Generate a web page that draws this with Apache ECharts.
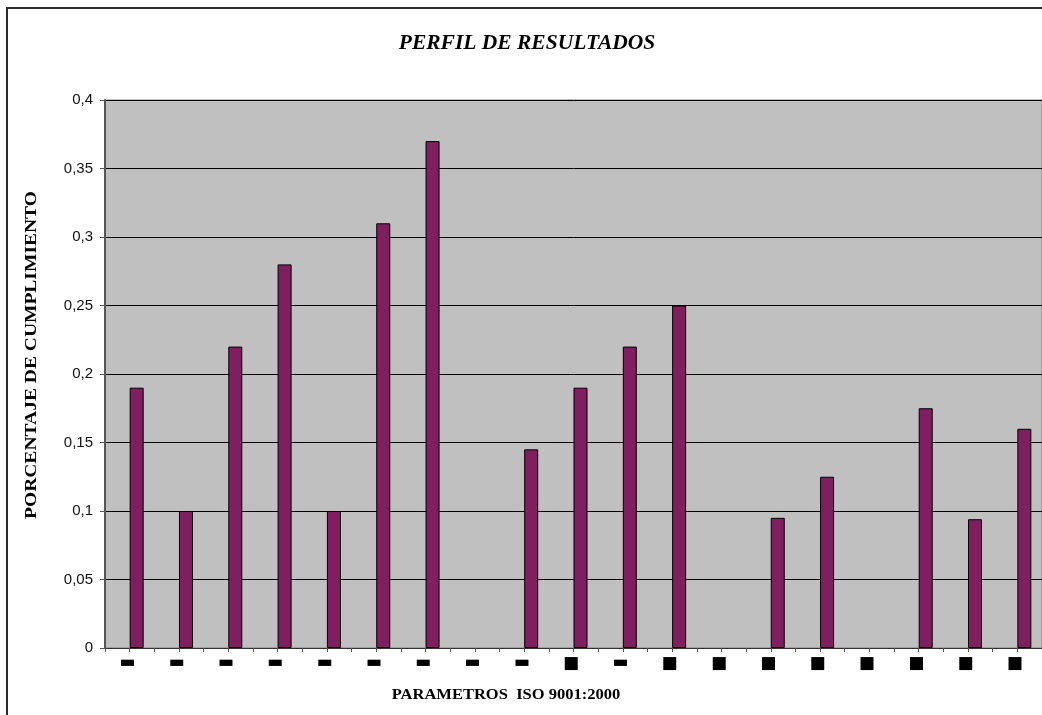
<!DOCTYPE html>
<html>
<head>
<meta charset="utf-8">
<script src="https://cdn.jsdelivr.net/npm/echarts@6/dist/echarts.min.js"></script>
<style>
  html, body { margin: 0; padding: 0; background: #fff; overflow: hidden; }
  #chart { width: 1042px; height: 715px; }
</style>
</head>
<body>
<div id="chart"></div>
<script>
// Marcadores de categoría tal como aparecen bajo cada parámetro
const categorias = ['▬', '▬', '▬', '▬', '▬', '▬', '▬', '▬', '▬', '■',
                    '▬', '■', '■', '■', '■', '■', '■', '■', '■'];

// Porcentaje de cumplimiento por parámetro (null: sin columna)
const cumplimiento = [0.19, 0.10, 0.22, 0.28, 0.10, 0.31, 0.37, null, 0.145, 0.19,
                      0.22, 0.25, null, 0.095, 0.125, null, 0.175, 0.094, 0.16];

// Primera serie del grupo, sin valores (ocupa el hueco izquierdo de cada columna)
const serieVacia = [null, null, null, null, null, null, null, null, null, null,
                    null, null, null, null, null, null, null, null, null];

// Marcas del eje Y
const ejeY = { min: 0, max: 0.4, paso: 0.05 };

const chart = echarts.init(document.getElementById('chart'), null, { renderer: 'canvas' });

const serif = '"Liberation Serif", "Times New Roman", serif';

chart.setOption({
  animation: false,
  backgroundColor: '#ffffff',
  grid: {
    left: 105, top: 100, right: -9, bottom: 67,
    show: true,
    backgroundColor: '#c0c0c0',
    borderColor: '#808080',
    borderWidth: 1
  },
  xAxis: [
    {
      type: 'category',
      data: categorias,
      boundaryGap: true,
      axisLine: { show: true, lineStyle: { color: '#333', width: 1 } },
      axisTick: { show: false },
      axisLabel: {
        interval: 0,
        margin: 7,
        padding: [0, 5, 0, 0],
        formatter: v => (v === '■' ? '{s|■}' : '{d|▬}'),
        rich: {
          s: { fontFamily: 'DejaVu Sans', fontSize: 17, color: '#000', lineHeight: 17 },
          d: { fontFamily: 'DejaVu Sans', fontSize: 17, color: '#000', lineHeight: 15 }
        }
      },
      splitLine: { show: false }
    },
    {
      // subdivisiones del eje: una marca en cada borde y en cada centro de categoría
      type: 'category',
      data: categorias.flatMap(c => [c, c]),
      position: 'bottom',
      boundaryGap: true,
      axisLine: { show: true, lineStyle: { color: '#333', width: 1 } },
      axisTick: { show: true, interval: 0, length: 4, lineStyle: { color: '#555' } },
      axisLabel: { show: false },
      splitLine: { show: false }
    }
  ],
  yAxis: {
    type: 'value',
    min: ejeY.min,
    max: ejeY.max,
    interval: ejeY.paso,
    axisLine: { show: true, lineStyle: { color: '#555', width: 2 } },
    axisTick: { show: true, length: 5, lineStyle: { color: '#555' } },
    axisLabel: {
      margin: 12,
      fontFamily: '"Liberation Sans", Arial, sans-serif',
      fontSize: 15,
      color: '#111',
      formatter: v => String(Math.round(v * 100) / 100).replace('.', ',')
    },
    splitLine: { show: true, lineStyle: { color: '#000', width: 1 } }
  },
  series: [
    {
      type: 'bar',
      xAxisIndex: 0,
      data: serieVacia,
      barWidth: 14,
      barGap: '0%',
      itemStyle: { color: '#7f1f5f', borderColor: '#000', borderWidth: 1 }
    },
    {
      name: 'Porcentaje de cumplimiento',
      type: 'bar',
      xAxisIndex: 0,
      data: cumplimiento,
      barWidth: 14,
      barGap: '0%',
      itemStyle: { color: '#7f1f5f', borderColor: '#000', borderWidth: 1 }
    }
  ],
  graphic: [
    {
      type: 'rect',
      silent: true,
      shape: { x: 7, y: 8, width: 1200, height: 900 },
      style: { fill: 'none', stroke: '#2b2b2b', lineWidth: 2 },
      z: 100
    },
    {
      type: 'text',
      x: 527, y: 43,
      style: {
        text: 'PERFIL DE RESULTADOS',
        font: 'italic bold 21.5px ' + serif,
        fill: '#000',
        textAlign: 'center',
        textVerticalAlign: 'middle'
      }
    },
    {
      type: 'text',
      x: 32, y: 355,
      rotation: Math.PI / 2,
      scaleX: 1.22,
      style: {
        text: 'PORCENTAJE DE CUMPLIMIENTO',
        font: 'bold 16px ' + serif,
        fill: '#000',
        textAlign: 'center',
        textVerticalAlign: 'middle'
      }
    },
    {
      type: 'text',
      x: 506, y: 695,
      scaleX: 1.18,
      style: {
        text: 'PARAMETROS  ISO 9001:2000',
        font: 'bold 14px ' + serif,
        fill: '#000',
        textAlign: 'center',
        textVerticalAlign: 'middle'
      }
    }
  ]
});
</script>
</body>
</html>
